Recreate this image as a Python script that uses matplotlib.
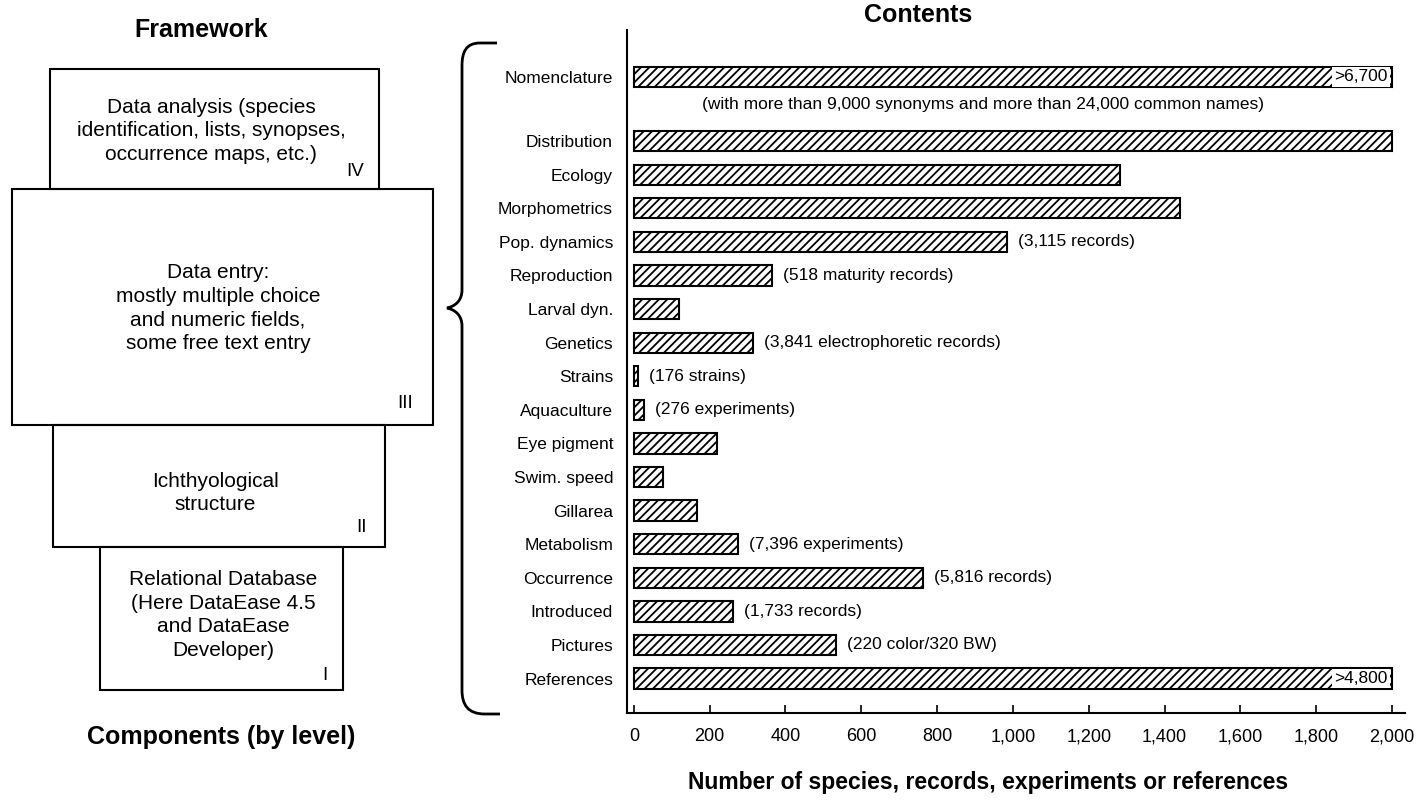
import matplotlib
matplotlib.use("Agg")
import matplotlib.pyplot as plt
from matplotlib.patches import Rectangle, PathPatch
from matplotlib.path import Path

plt.rcParams["font.family"] = ["Liberation Sans", "DejaVu Sans"]
plt.rcParams["hatch.linewidth"] = 1.3

# data
categories = ["Nomenclature", "Distribution", "Ecology", "Morphometrics", "Pop. dynamics",
              "Reproduction", "Larval dyn.", "Genetics", "Strains", "Aquaculture",
              "Eye pigment", "Swim. speed", "Gillarea", "Metabolism", "Occurrence",
              "Introduced", "Pictures", "References"]
values = [2000, 2000, 1282, 1441, 984, 364, 119, 314, 12, 26,
          219, 77, 166, 274, 762, 261, 533, 2000]
notes = ["", "", "", "", "(3,115 records)", "(518 maturity records)", "",
         "(3,841 electrophoretic records)", "(176 strains)", "(276 experiments)",
         "", "", "", "(7,396 experiments)", "(5,816 records)", "(1,733 records)",
         "(220 color/320 BW)", ""]
caps = [">6,700", "", "", "", "", "", "", "", "", "", "", "", "", "", "", "", "", ">4,800"]
nomen_note = "(with more than 9,000 synonyms and more than 24,000 common names)"
xticks = [0, 200, 400, 600, 800, 1000, 1200, 1400, 1600, 1800, 2000]

# framework boxes: (x0, y0, x1, y1) in pixels, label, numeral
boxes = [
    ((50, 69, 379, 189), "Data analysis (species\nidentification, lists, synopses,\noccurrence maps, etc.)", "IV"),
    ((12, 189, 433, 425), "Data entry:\nmostly multiple choice\nand numeric fields,\nsome free text entry", "III"),
    ((53, 425, 385, 547), "Ichthyological\nstructure", "II"),
    ((100, 547, 343, 690), "Relational Database\n(Here DataEase 4.5\nand DataEase\nDeveloper)", "I"),
]

W, H = 1424, 800
fig = plt.figure(figsize=(W / 100, H / 100), dpi=100)

# ---- left panel (pixel coordinates) ----
ax0 = fig.add_axes([0, 0, 1, 1])
ax0.set_xlim(0, W)
ax0.set_ylim(H, 0)
ax0.axis("off")

ax0.text(201, 30, "Framework", ha="center", va="center", fontsize=18, fontweight="bold")
ax0.text(221, 737, "Components (by level)", ha="center", va="center", fontsize=18, fontweight="bold")

text_centres = [(211, 131), (218, 308), (215, 493), (223, 615)]
numeral_pos = [(355, 172), (405, 403), (362, 527), (325, 675)]
for (rect, label, num), (tx, ty), (nx, ny) in zip(boxes, text_centres, numeral_pos):
    x0, y0, x1, y1 = rect
    ax0.add_patch(Rectangle((x0, y0), x1 - x0, y1 - y0, fill=False, edgecolor="black", linewidth=1.5))
    ax0.text(tx, ty, label, ha="center", va="center", fontsize=15, linespacing=1.3)
    ax0.text(nx, ny, num, ha="center", va="center", fontsize=13.5)

# curly brace
verts = [(497, 43), (480, 43),
         (466, 43), (462, 52), (462, 66),
         (462, 290),
         (462, 300), (456, 306), (447, 308),
         (456, 310), (462, 316), (462, 326),
         (462, 690),
         (462, 705), (468, 714), (485, 714),
         (500, 714)]
codes = [Path.MOVETO, Path.LINETO,
         Path.CURVE4, Path.CURVE4, Path.CURVE4,
         Path.LINETO,
         Path.CURVE4, Path.CURVE4, Path.CURVE4,
         Path.CURVE4, Path.CURVE4, Path.CURVE4,
         Path.LINETO,
         Path.CURVE4, Path.CURVE4, Path.CURVE4,
         Path.LINETO]
ax0.add_patch(PathPatch(Path(verts, codes), fill=False, edgecolor="black", linewidth=2))

# ---- bar chart ----
ax = fig.add_axes([627 / W, 1 - 713 / H, 778 / W, 683 / H])
ax.patch.set_alpha(0)

pos = [0] + [1.9 + i * 0.995 for i in range(len(categories) - 1)]
ax.barh(pos, values, height=0.6, color="white", edgecolor="black", hatch="////", linewidth=1.5)

for p, v, n, c in zip(pos, values, notes, caps):
    if n:
        ax.annotate(n, (v, p), xytext=(8, 0), textcoords="offset points",
                    ha="left", va="center", fontsize=12.5)
    if c:
        ax.text(v - 12, p, c, ha="right", va="center", fontsize=12.5,
                bbox=dict(facecolor="white", edgecolor="none", pad=1.5))
ax.text(920, 0.83, nomen_note, ha="center", va="center", fontsize=12.5)

ax.set_xlim(-18, 2034)
ax.set_ylim(18.84, -1.39)
ax.set_yticks(pos)
ax.set_yticklabels(categories, fontsize=12.5)
ax.tick_params(axis="y", length=0, pad=10)
ax.set_xticks(xticks)
ax.set_xticklabels([f"{t:,}" for t in xticks], fontsize=13)
ax.tick_params(axis="x", direction="in", length=6, width=1.2, pad=11)
ax.spines["top"].set_visible(False)
ax.spines["right"].set_visible(False)
ax.spines["left"].set_linewidth(1.5)
ax.spines["bottom"].set_linewidth(1.5)
ax.set_xlabel("Number of species, records, experiments or references",
              fontsize=16.5, fontweight="bold")
ax.xaxis.set_label_coords((988 - 627) / 778, (713 - 771) / 683)

fig.text(918 / W, 1 - 15 / H, "Contents", ha="center", va="center", fontsize=18, fontweight="bold")

fig.savefig("out.png", dpi=100)
